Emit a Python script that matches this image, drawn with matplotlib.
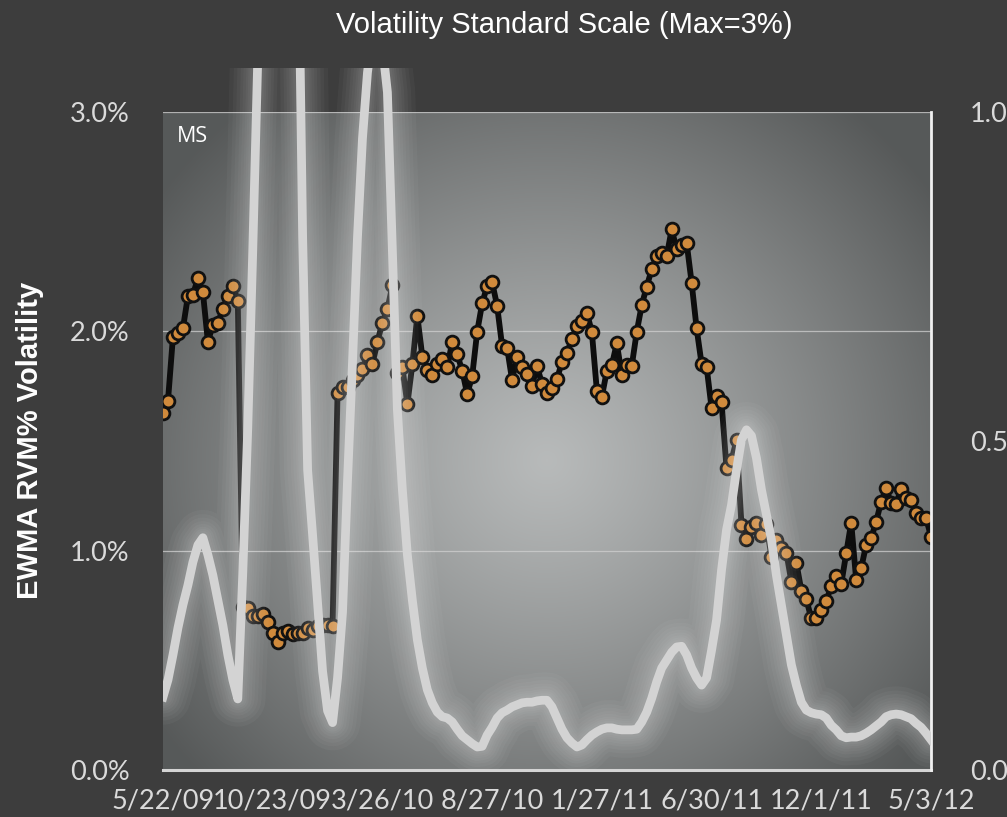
import numpy as np
import matplotlib
matplotlib.use("Agg")
import matplotlib.pyplot as plt
from matplotlib.transforms import Bbox, TransformedBbox

# ---------------- data ----------------
tick_labels = ["5/22/09", "10/23/09", "3/26/10", "8/27/10", "1/27/11", "6/30/11", "12/1/11", "5/3/12"]
tick_every = 22

# EWMA RVM% volatility (left axis, %)
vol = [
    1.626, 1.684, 1.976, 1.991, 2.014, 2.161, 2.166, 2.242, 2.178, 1.953,
    2.029, 2.037, 2.103, 2.161, 2.208, 2.140, 0.743, 0.737, 0.700, 0.700,
    0.710, 0.676, 0.626, 0.585, 0.623, 0.634, 0.620, 0.623, 0.626, 0.646,
    0.638, 0.657, 0.661, 0.660, 0.657, 1.720, 1.748, 1.745, 1.778, 1.800,
    1.827, 1.892, 1.851, 1.953, 2.040, 2.100, 2.211, 1.809, 1.836, 1.667,
    1.850, 2.071, 1.884, 1.824, 1.801, 1.851, 1.872, 1.836, 1.953, 1.895,
    1.820, 1.714, 1.796, 1.998, 2.128, 2.207, 2.224, 2.116, 1.933, 1.925,
    1.778, 1.884, 1.839, 1.805, 1.751, 1.842, 1.760, 1.717, 1.740, 1.781,
    1.862, 1.903, 1.964, 2.024, 2.049, 2.085, 1.996, 1.729, 1.702, 1.820,
    1.847, 1.945, 1.801, 1.847, 1.843, 1.998, 2.120, 2.204, 2.283, 2.343,
    2.356, 2.343, 2.465, 2.374, 2.394, 2.404, 2.222, 2.014, 1.851, 1.839,
    1.650, 1.705, 1.676, 1.376, 1.412, 1.505, 1.117, 1.052, 1.110, 1.128,
    1.073, 1.120, 0.971, 1.049, 1.011, 0.989, 0.859, 0.944, 0.818, 0.778,
    0.691, 0.691, 0.728, 0.771, 0.839, 0.883, 0.848, 0.989, 1.128, 0.866,
    0.920, 1.027, 1.056, 1.132, 1.223, 1.284, 1.217, 1.214, 1.280, 1.239,
    1.231, 1.170, 1.148, 1.150, 1.064,
]

# secondary series (right axis, 0..1)
ratio = [
    0.111, 0.137, 0.175, 0.216, 0.251, 0.281, 0.316, 0.342, 0.353, 0.327,
    0.296, 0.258, 0.220, 0.175, 0.137, 0.108, 0.300, 0.520, 0.790, 1.080,
    1.350, 1.550, 1.700, 1.750, 1.700, 1.600, 1.450, 1.345, 0.810, 0.456,
    0.357, 0.254, 0.150, 0.090, 0.072, 0.140, 0.240, 0.440, 0.620, 0.810,
    0.960, 1.060, 1.120, 1.140, 1.100, 1.030, 0.790, 0.547, 0.426, 0.327,
    0.258, 0.198, 0.155, 0.122, 0.102, 0.088, 0.081, 0.079, 0.073, 0.062,
    0.052, 0.046, 0.040, 0.035, 0.036, 0.053, 0.065, 0.079, 0.087, 0.091,
    0.096, 0.099, 0.102, 0.103, 0.103, 0.105, 0.106, 0.106, 0.096, 0.079,
    0.062, 0.049, 0.041, 0.035, 0.038, 0.046, 0.053, 0.058, 0.062, 0.064,
    0.064, 0.062, 0.061, 0.061, 0.061, 0.062, 0.073, 0.088, 0.109, 0.134,
    0.155, 0.167, 0.179, 0.187, 0.188, 0.175, 0.155, 0.140, 0.129, 0.140,
    0.182, 0.228, 0.304, 0.365, 0.403, 0.456, 0.502, 0.517, 0.508, 0.474,
    0.426, 0.388, 0.350, 0.296, 0.251, 0.205, 0.160, 0.129, 0.103, 0.091,
    0.087, 0.085, 0.084, 0.079, 0.068, 0.061, 0.052, 0.049, 0.050, 0.050,
    0.052, 0.056, 0.061, 0.067, 0.073, 0.081, 0.084, 0.085, 0.084, 0.081,
    0.078, 0.071, 0.065, 0.056, 0.046,
]

left_ticks = [0, 1, 2, 3]
left_labels = ["0.0%", "1.0%", "2.0%", "3.0%"]
right_ticks = [0, 0.5, 1.0]
right_labels = ["0.0", "0.5", "1.0"]

# ---------------- figure ----------------
W, H = 1007, 817
fig = plt.figure(figsize=(W / 100, H / 100), dpi=100)
bg = "#3d3d3d"
fig.patch.set_facecolor(bg)

L, R, T, B = 163, 931, 112, 770
ax = fig.add_axes([L / W, 1 - B / H, (R - L) / W, (B - T) / H])
ax.set_facecolor("none")

x = np.arange(len(vol))
n = len(vol)

# radial gradient background for plot area
gx = np.linspace(0, 1, 400)
gy = np.linspace(0, 1, 400)
GX, GY = np.meshgrid(gx, gy)
r = np.sqrt(((GX - 0.50) / 0.62) ** 2 + ((GY - 0.47) / 0.70) ** 2)
t = np.clip(r, 0, 1) ** 1.15
c_center = np.array([0.72, 0.73, 0.73])
c_edge = np.array([0.34, 0.35, 0.35])
img = c_center[None, None, :] * (1 - t[..., None]) + c_edge[None, None, :] * t[..., None]
ax.imshow(img, extent=[0, n - 1, 0, 3], origin="lower", aspect="auto", zorder=0,
          interpolation="bilinear")

ax.set_xlim(0, n - 1)
ax.set_ylim(0, 3)

# gridlines
for yv in [1, 2, 3]:
    ax.axhline(yv, color="#d0d0d0", lw=0.9, alpha=0.75, zorder=1)

# main series
ax.plot(x, vol, color="#0d0d0d", lw=4.2, zorder=3, solid_joinstyle="round",
        marker="o", markersize=9.2, markerfacecolor="#d08a3c",
        markeredgecolor="#111111", markeredgewidth=2.0)

for s in ["left", "top", "right"]:
    ax.spines[s].set_visible(False)
ax.spines["bottom"].set_color("#d4d4d4")
ax.spines["bottom"].set_linewidth(2.2)

tick_color = "#dadada"
ax.set_yticks(left_ticks)
ax.set_yticklabels(left_labels)
ax.set_xticks(np.arange(0, n, tick_every))
ax.set_xticklabels(tick_labels)
ax.tick_params(axis="y", length=0, pad=24, labelcolor=tick_color, labelsize=19.5)
ax.tick_params(axis="x", length=0, pad=13, labelcolor=tick_color, labelsize=19.5)
for lab in ax.get_xticklabels() + ax.get_yticklabels():
    lab.set_family(["Lato", "DejaVu Sans"])

# secondary axis
ax2 = ax.twinx()
ax2.set_ylim(0, 1)
ax2.set_xlim(0, n - 1)
ax2.patch.set_visible(False)
for s in ["left", "top", "bottom"]:
    ax2.spines[s].set_visible(False)
ax2.spines["right"].set_color("#f0f0f0")
ax2.spines["right"].set_linewidth(2.0)
ax2.set_yticks(right_ticks)
ax2.set_yticklabels(right_labels)
ax2.tick_params(axis="y", length=0, pad=28, labelcolor=tick_color, labelsize=19.5)
for lab in ax2.get_yticklabels():
    lab.set_family(["Lato", "DejaVu Sans"])

clip = TransformedBbox(Bbox([[L / W, 1 - B / H], [R / W, 1 - 68 / H]]), fig.transFigure)

glow_widths = [40, 34, 29, 24, 20, 16, 13, 10]
for lw in glow_widths:
    gl, = ax2.plot(x, ratio, color="white", lw=lw, alpha=0.035, zorder=4,
                   solid_joinstyle="round", solid_capstyle="round")
    gl.set_clip_box(clip)
main, = ax2.plot(x, ratio, color="#d3d3d3", lw=6.3, zorder=5, solid_joinstyle="round")
main.set_clip_box(clip)

# texts
fig.text(564 / W, 1 - 25 / H, "Volatility Standard Scale (Max=3%)", color="white",
         fontsize=21, family=["Liberation Sans", "DejaVu Sans"], ha="center", va="center")
fig.text(30 / W, 1 - 440 / H, "EWMA RVM% Volatility", color="white", fontsize=21,
         fontweight="bold", family=["Liberation Sans", "DejaVu Sans"],
         rotation=90, ha="center", va="center")
fig.text(177 / W, 1 - 137 / H, "MS", color="white", fontsize=15.5,
         family=["Open Sans", "DejaVu Sans"], ha="left", va="center")

fig.savefig("out.png", dpi=100, facecolor=bg)
